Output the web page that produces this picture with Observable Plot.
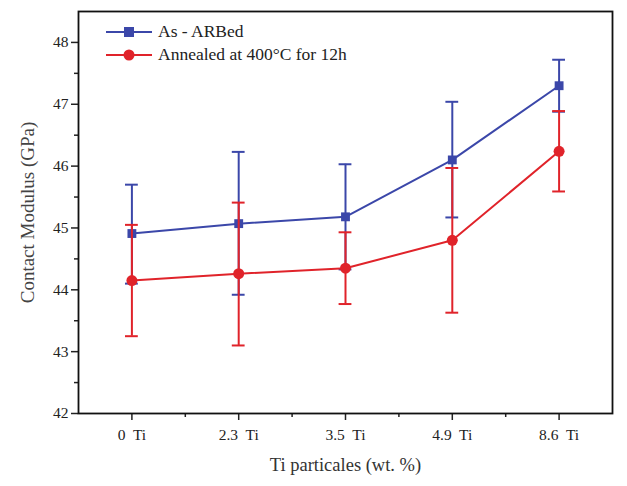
<!DOCTYPE html>
<html><head><meta charset="utf-8">
<script src="https://cdn.jsdelivr.net/npm/d3@7"></script>
<script src="https://cdn.jsdelivr.net/npm/@observablehq/plot@0.6"></script>
<style>
body{margin:0;background:#fff;}
#wrap{position:relative;width:627px;height:486px;}
#legend{position:absolute;left:106px;top:20px;font-family:"Liberation Serif",serif;font-size:17.5px;color:#222;}
#legend div{display:flex;align-items:center;height:23px;}
#legend svg{margin-right:6px;}
</style></head>
<body><div id="wrap"><div id="chart"></div><div id="legend"></div></div>
<script>
const categories = ["0  Ti","2.3  Ti","3.5  Ti","4.9  Ti","8.6  Ti"];
const seriesNames = ["As - ARBed","Annealed at 400°C for 12h"];
const asArbMean = [44.91, 45.07, 45.18, 46.10, 47.30];
const asArbLow  = [44.10, 43.92, 44.33, 45.17, 46.88];
const asArbHigh = [45.70, 46.23, 46.03, 47.04, 47.72];
const annMean = [44.15, 44.26, 44.35, 44.80, 46.24];
const annLow  = [43.25, 43.10, 43.77, 43.63, 45.59];
const annHigh = [45.05, 45.41, 44.93, 45.97, 46.89];
const colors = ["#3b47a9","#e0232a"];
const yTicks = [42,43,44,45,46,47,48];

const build = (m,l,h,s) => m.map((v,i)=>({i, cat:categories[i], y:v, lo:l[i], hi:h[i], s}));
const blue = build(asArbMean, asArbLow, asArbHigh, seriesNames[0]);
const red = build(annMean, annLow, annHigh, seriesNames[1]);
const cap = 0.06;
const font = "Liberation Serif, serif";

function seriesMarks(data, color, symbol, r){
  return [
    Plot.ruleX(data,{x:"i",y1:"lo",y2:"hi",stroke:color,strokeWidth:2}),
    Plot.ruleY(data,{y:"lo",x1:d=>d.i-cap,x2:d=>d.i+cap,stroke:color,strokeWidth:2}),
    Plot.ruleY(data,{y:"hi",x1:d=>d.i-cap,x2:d=>d.i+cap,stroke:color,strokeWidth:2}),
    Plot.line(data,{x:"i",y:"y",stroke:color,strokeWidth:2}),
    Plot.dot(data,{x:"i",y:"y",fill:color,symbol,r})
  ];
}

const chart = Plot.plot({
  width:627, height:486,
  marginLeft:78, marginRight:15, marginTop:11, marginBottom:73,
  style:{fontFamily:font, fontSize:"15px", color:"#222", background:"#fff"},
  x:{domain:[-0.5,4.5], label:null},
  y:{domain:[42,48.5], label:null},
  marks:[
    Plot.axisY({ticks:d3.range(42.5,48.5,1), tickSize:4, tickFormat:()=>"", strokeWidth:1.5, label:null}),
    Plot.axisY({ticks:yTicks, tickSize:7, tickPadding:3, tickFormat:d=>String(d), strokeWidth:1.5, fontSize:15.5, label:null}),
    Plot.axisX({ticks:d3.range(0.5,4.5,1), tickSize:4, tickFormat:()=>"", strokeWidth:1.5, label:null}),
    Plot.axisX({ticks:d3.range(0,5), tickSize:7, tickPadding:8, tickFormat:i=>categories[i], strokeWidth:1.5, fontSize:15.5, label:null}),
    Plot.text(["Contact Modulus (GPa)"],{frameAnchor:"left", textAnchor:"middle", dx:-51, rotate:-90, fontSize:19, fill:"#444"}),
    Plot.text(["Ti particales (wt. %)"],{frameAnchor:"bottom", dy:57, fontSize:18.5, fill:"#333"}),
    ...seriesMarks(blue, colors[0], "square", 5),
    ...seriesMarks(red, colors[1], "circle", 5.5),
    Plot.frame({stroke:"#111", strokeWidth:1.8})
  ]
});
document.getElementById("chart").appendChild(chart);

const leg = d3.select("#legend");
seriesNames.forEach((n,k)=>{
  const row = leg.append("div");
  const s = row.append("svg").attr("width",46).attr("height",14);
  s.append("line").attr("x1",0).attr("x2",46).attr("y1",7).attr("y2",7).attr("stroke",colors[k]).attr("stroke-width",2.2);
  if(k===0) s.append("rect").attr("x",18).attr("y",2).attr("width",10).attr("height",10).attr("fill",colors[k]);
  else s.append("circle").attr("cx",23).attr("cy",7).attr("r",5.5).attr("fill",colors[k]);
  row.append("span").text(n);
});
</script></body></html>
